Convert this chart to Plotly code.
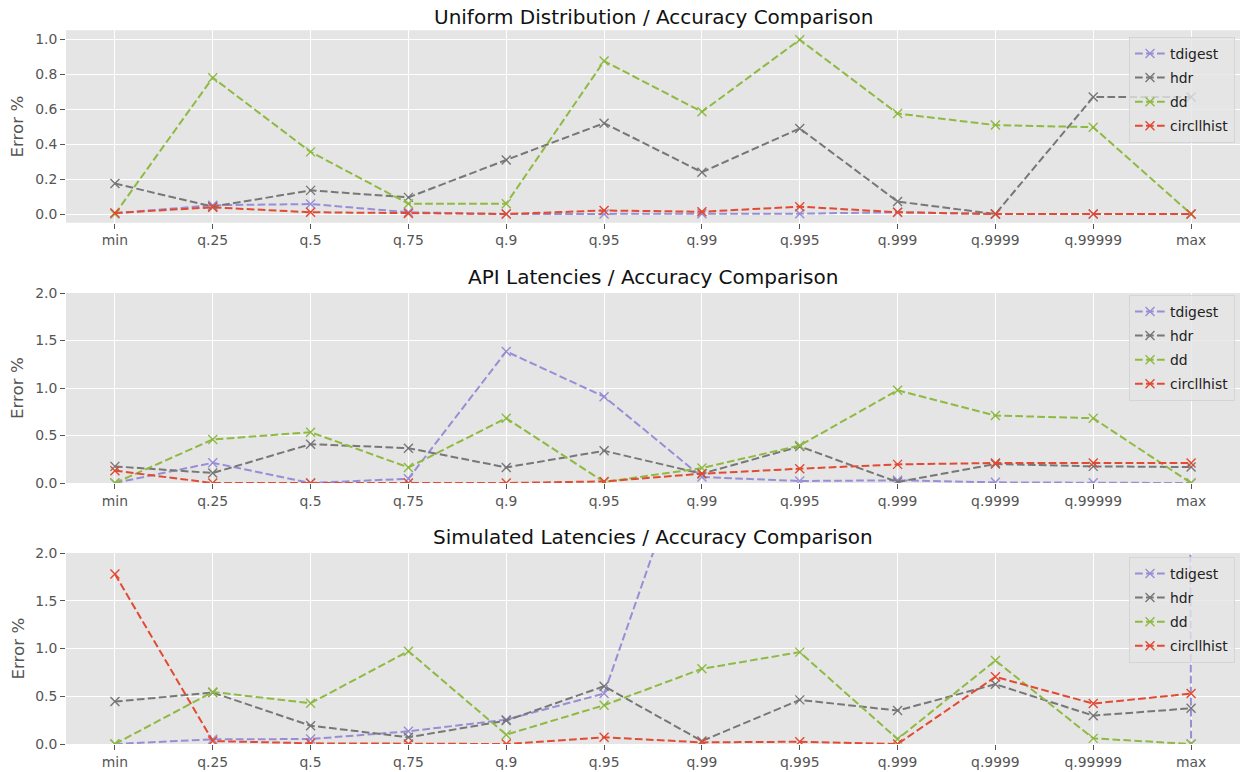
import plotly.graph_objects as go
from plotly.subplots import make_subplots

quantiles = ["min", "q.25", "q.5", "q.75", "q.9", "q.95", "q.99", "q.995",
             "q.999", "q.9999", "q.99999", "max"]
series_names = ["tdigest", "hdr", "dd", "circllhist"]
titles = ["Uniform Distribution / Accuracy Comparison",
          "API Latencies / Accuracy Comparison",
          "Simulated Latencies / Accuracy Comparison"]

# Uniform distribution
uni_tdigest = [0.004, 0.05, 0.057, 0.01, 0.0, 0.0, 0.002, 0.002, 0.01, 0.0, 0.0, 0.0]
uni_hdr = [0.174, 0.042, 0.135, 0.095, 0.309, 0.519, 0.239, 0.489, 0.071, 0.0, 0.668, 0.668]
uni_dd = [0.0, 0.779, 0.355, 0.059, 0.059, 0.874, 0.584, 0.996, 0.574, 0.508, 0.496, 0.0]
uni_circllhist = [0.006, 0.038, 0.01, 0.003, 0.0, 0.02, 0.013, 0.042, 0.01, 0.0, 0.0, 0.0]

# API latencies
api_tdigest = [0.0, 0.213, 0.0, 0.045, 1.385, 0.909, 0.063, 0.021, 0.028, 0.007, 0.003, 0.0]
api_hdr = [0.175, 0.105, 0.409, 0.367, 0.164, 0.339, 0.098, 0.385, 0.01, 0.2, 0.175, 0.168]
api_dd = [0.0, 0.458, 0.535, 0.164, 0.682, 0.01, 0.157, 0.395, 0.976, 0.71, 0.682, 0.0]
api_circllhist = [0.13, 0.0, 0.0, 0.0, 0.0, 0.017, 0.098, 0.15, 0.196, 0.21, 0.21, 0.21]

# Simulated latencies (tdigest leaves the visible range in the upper quantiles)
sim_tdigest = [0.0, 0.049, 0.052, 0.133, 0.255, 0.528, 3.47, 6.0, 12.0, 40.0, 300.0, 0.0]
sim_hdr = [0.444, 0.538, 0.192, 0.07, 0.245, 0.605, 0.031, 0.462, 0.35, 0.626, 0.297, 0.374]
sim_dd = [0.0, 0.545, 0.427, 0.972, 0.098, 0.406, 0.787, 0.962, 0.052, 0.874, 0.059, 0.0]
sim_circllhist = [1.78, 0.031, 0.007, 0.0, 0.0, 0.07, 0.017, 0.024, 0.0, 0.703, 0.423, 0.528]

panels = [
    [uni_tdigest, uni_hdr, uni_dd, uni_circllhist],
    [api_tdigest, api_hdr, api_dd, api_circllhist],
    [sim_tdigest, sim_hdr, sim_dd, sim_circllhist],
]
colors = ["#988ED5", "#777777", "#8EBA42", "#E24A33"]

W, H = 1243, 772
ML, MR, MT, MB = 66, 3, 30, 28
plot_h = H - MT - MB
plot_w = W - ML - MR

def py(pix):  # pixel y from top -> paper fraction
    return (H - MB - pix) / plot_h

def px(pix):
    return (pix - ML) / plot_w

domains = [(py(222.75), py(30.25)), (py(483), py(293)), (py(744), py(553))]
legend_tops = [37, 295, 557]
title_shifts = [-1, 2, 2]

fig = make_subplots(rows=3, cols=1)
legend_keys = ["legend", "legend2", "legend3"]

for r, data in enumerate(panels):
    for name, vals, col in zip(series_names, data, colors):
        fig.add_trace(go.Scatter(
            x=list(range(len(quantiles))), y=vals, name=name, mode="lines+markers",
            line=dict(color=col, width=2, dash="7.7px,3.3px"),
            marker=dict(symbol="x-thin", size=9, color=col,
                        line=dict(color=col, width=1.4)),
            legend=legend_keys[r], legendgroup=f"p{r}-{name}",
            showlegend=True, cliponaxis=True,
        ), row=r + 1, col=1)

axis_common = dict(
    showgrid=True, gridcolor="white", gridwidth=1.1, zeroline=False,
    showline=False, ticks="outside", ticklen=5, tickwidth=1, tickcolor="#555555",
    tickfont=dict(family="DejaVu Sans", size=13.9, color="#555555"),
)

for r in range(3):
    fig.update_xaxes(
        range=[-0.5, 11.5], tickmode="array", tickvals=list(range(len(quantiles))),
        ticktext=quantiles, row=r + 1, col=1, **axis_common)
    if r == 0:
        fig.update_yaxes(range=[-0.05, 1.05], tickmode="array",
                         tickvals=[0, 0.2, 0.4, 0.6, 0.8, 1.0], tickformat=".1f",
                         row=r + 1, col=1, **axis_common)
    else:
        fig.update_yaxes(range=[0, 2], tickmode="array",
                         tickvals=[0, 0.5, 1.0, 1.5, 2.0], tickformat=".1f",
                         row=r + 1, col=1, **axis_common)

layout_domains = {}
for r in range(3):
    suffix = "" if r == 0 else str(r + 1)
    layout_domains["yaxis" + suffix] = dict(domain=list(domains[r]))
    layout_domains["xaxis" + suffix] = dict(domain=[0, 1])
fig.update_layout(**layout_domains)

annotations = []
for r in range(3):
    d0, d1 = domains[r]
    annotations.append(dict(
        text=titles[r], x=0.5, xref="paper", y=d1, yref="paper",
        xanchor="center", yanchor="bottom", yshift=title_shifts[r], showarrow=False,
        font=dict(family="DejaVu Sans", size=20, color="#111111")))
    annotations.append(dict(
        text="Error %", x=px(17), xref="paper", y=(d0 + d1) / 2, yref="paper",
        xanchor="center", yanchor="middle", textangle=-90, showarrow=False,
        font=dict(family="DejaVu Sans", size=16.7, color="#555555")))

legend_style = dict(
    xanchor="right", yanchor="top", x=px(1235),
    bgcolor="rgba(229,229,229,0.8)", bordercolor="#D5D5D5", borderwidth=1,
    font=dict(family="DejaVu Sans", size=13.9, color="#222222"),
    tracegroupgap=3, itemwidth=30,
)
legends = {}
for r in range(3):
    legends[legend_keys[r]] = dict(y=py(legend_tops[r]), **legend_style)

fig.update_layout(
    width=W, height=H,
    margin=dict(l=ML, r=MR, t=MT, b=MB),
    paper_bgcolor="white", plot_bgcolor="#E5E5E5",
    font=dict(family="DejaVu Sans", color="#555555"),
    annotations=annotations,
    **legends,
)

fig.write_html(
    "out.html",
    config={"displayModeBar": False},
    post_script="document.body.style.margin='0px';document.body.style.overflow='hidden';",
)
